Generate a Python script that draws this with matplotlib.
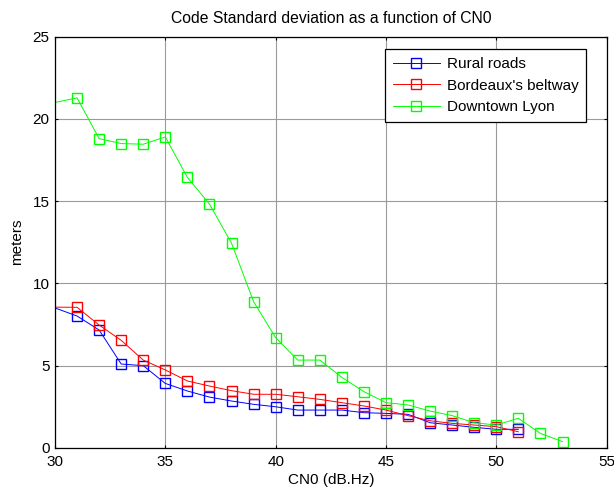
import matplotlib
matplotlib.use("Agg")
import matplotlib.pyplot as plt
from matplotlib.ticker import MultipleLocator

plt.rcParams['font.family'] = ['Liberation Sans', 'DejaVu Sans']

cn0 = list(range(30, 54))
rural = [8.5, 8.01, 7.16, 5.09, 4.99, 3.91, 3.45, 3.08, 2.84, 2.64, 2.49, 2.29, 2.29,
         2.29, 2.13, 2.09, 2.03, 1.52, 1.38, 1.24, 1.12, 1.12]
bordeaux = [8.55, 8.54, 7.46, 6.53, 5.33, 4.73, 4.06, 3.75, 3.47, 3.25, 3.25, 3.10, 2.94,
            2.74, 2.54, 2.29, 1.95, 1.64, 1.48, 1.38, 1.28, 0.97]
lyon = [21.0, 21.28, 18.80, 18.50, 18.46, 18.90, 16.44, 14.82, 12.44, 8.88, 6.69, 5.33, 5.33,
        4.28, 3.41, 2.74, 2.60, 2.23, 1.95, 1.52, 1.38, 1.79, 0.87, 0.37]
labels = ["Rural roads", "Bordeaux's beltway", "Downtown Lyon"]
colors = ["#0000ff", "#ff0000", "#00ff00"]

fig = plt.figure(figsize=(6.14, 4.9), dpi=100)
ax = fig.add_axes([0.0896, 0.0863, 0.8984, 0.8388])

for ys, lab, c in zip([rural, bordeaux, lyon], labels, colors):
    xs = cn0[:len(ys)]
    ax.plot(xs, ys, color=c, lw=0.7, marker='s', markersize=7.5,
            markerfacecolor='none', markeredgecolor=c, markeredgewidth=1.0,
            markevery=list(range(1, len(ys))), label=lab)

ax.set_xlim(30, 55)
ax.set_ylim(0, 25)
ax.xaxis.set_major_locator(MultipleLocator(5))
ax.yaxis.set_major_locator(MultipleLocator(5))
ax.grid(True, color='#9a9a9a', lw=0.8, ls='-')
ax.set_axisbelow(True)
ax.tick_params(direction='in', top=True, right=True, length=2.5, width=0.8,
               labelsize=11)
ax.tick_params(axis='x', pad=5)
ax.tick_params(axis='y', pad=4)
for s in ax.spines.values():
    s.set_linewidth(0.9)
ax.set_title("Code Standard deviation as a function of CN0", fontsize=11.3, pad=10)
ax.set_xlabel("CN0 (dB.Hz)", fontsize=11, labelpad=3)
ax.set_ylabel("meters", fontsize=11, labelpad=6)

leg = ax.legend(loc='upper left', bbox_to_anchor=(0.598, 0.969), fontsize=11,
                frameon=True, fancybox=False, edgecolor='black', framealpha=1,
                handlelength=3.1, borderpad=0.5, labelspacing=0.5,
                handletextpad=0.45, borderaxespad=0)
leg.get_frame().set_linewidth(0.9)

fig.savefig("out.png", dpi=100)
